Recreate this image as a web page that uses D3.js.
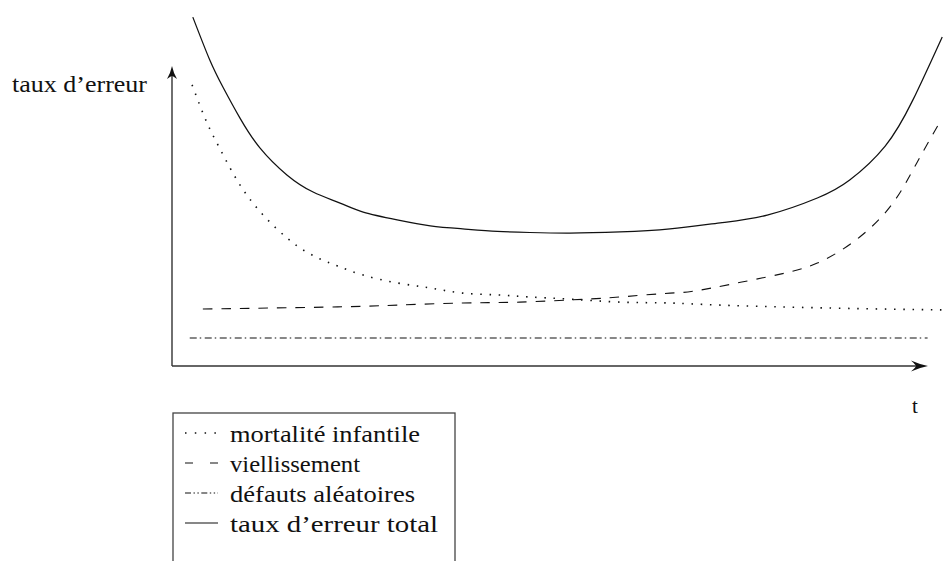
<!DOCTYPE html>
<html>
<head>
<meta charset="utf-8">
<script src="https://cdn.jsdelivr.net/npm/d3@7/dist/d3.min.js"></script>
<style>
html,body{margin:0;padding:0;background:#fff;}
svg{display:block;}
</style>
</head>
<body>
<svg id="chart" width="943" height="561"></svg>
<script>
// ---- data (time t in arbitrary units 0..100, failure rate in arbitrary units 0..100) ----
const totalT = [2.7, 4.9, 6.6, 8.8, 11.4, 14.9, 18.3, 21.8, 24.8, 29.2, 33.5, 37.7, 42.2, 46.4, 51.6, 58.1, 64.6, 71.1, 77.2, 83.7, 87.9, 92.5, 96.1, 99.9];
const totalV = [116.3, 102.0, 93.0, 82.7, 72.7, 63.7, 58.0, 54.3, 51.3, 48.7, 46.7, 45.7, 44.9, 44.5, 44.3, 44.7, 45.7, 47.7, 50.3, 56.0, 62.0, 73.3, 88.7, 109.7];

const infantT = [2.6, 4.5, 6.1, 7.9, 9.9, 12.3, 14.9, 17.0, 19.2, 21.5, 24.8, 29.2, 33.5, 37.7, 42.2, 46.4, 51.6, 58.1, 64.6, 71.1, 85.7, 100];
const infantV = [93.7, 81.3, 73.0, 64.3, 56.3, 49.0, 42.7, 38.7, 35.7, 33.3, 30.3, 27.7, 26.0, 24.3, 23.7, 23.0, 22.3, 21.3, 21.0, 20.3, 19.3, 18.7];

const agingT = [4.0, 21.5, 29.2, 37.7, 45.1, 53.8, 58.1, 64.6, 68.5, 77.2, 83.7, 89.2, 93.5, 96.6, 99.9];
const agingV = [19.0, 19.7, 20.3, 21.0, 21.3, 22.3, 23.0, 24.3, 25.3, 29.7, 34.3, 43.0, 54.3, 67.7, 82.7];

const randomT = [2.3, 98.0];
const randomV = [9.33, 9.33];

const legendLabels = ["mortalité infantile", "viellissement", "défauts aléatoires", "taux d’erreur total"];
const yLabel = "taux d’erreur";
const xLabel = "t";

// ---- drawing ----
const svg = d3.select("#chart");
const x = d3.scaleLinear().domain([0, 100]).range([172, 943]);
const y = d3.scaleLinear().domain([0, 100]).range([366, 66]);
const xAxisEnd = 98.05;

const line = d3.line().x(d => x(d[0])).y(d => y(d[1])).curve(d3.curveNatural);
const zip = (a, b) => a.map((v, i) => [v, b[i]]);

const styles = {
  infant: {dash: "1.5,7.7", cap: "butt", w: 1.6},
  aging: {dash: "9.5,9", cap: "butt", w: 1.1},
  random: {dash: "7,3,1.5,3.5", cap: "butt", w: 1.1},
  total: {dash: null, cap: "butt", w: 1.25}
};

function drawSeries(data, st) {
  const p = svg.append("path").datum(data).attr("d", line)
    .attr("fill", "none").attr("stroke", "#111").attr("stroke-width", st.w)
    .attr("stroke-linecap", st.cap);
  if (st.dash) p.attr("stroke-dasharray", st.dash);
}

// axes
const axisColor = "#333";
svg.append("line").attr("x1", x(0)).attr("y1", y(0)).attr("x2", x(0)).attr("y2", y(100) + 4)
  .attr("stroke", axisColor).attr("stroke-width", 1.4);
svg.append("line").attr("x1", x(0)).attr("y1", y(0)).attr("x2", x(xAxisEnd) - 4).attr("y2", y(0))
  .attr("stroke", axisColor).attr("stroke-width", 1.4);
// arrowheads
{
  const tx = x(0), ty = y(100);
  svg.append("path")
    .attr("d", `M${tx},${ty} Q${tx+1.5},${ty+7} ${tx+5},${ty+13} Q${tx+1},${ty+10} ${tx},${ty+10} Q${tx-1},${ty+10} ${tx-5},${ty+13} Q${tx-1.5},${ty+7} ${tx},${ty} Z`)
    .attr("fill", "#111");
  const ax = x(xAxisEnd), ay = y(0);
  svg.append("path")
    .attr("d", `M${ax},${ay} Q${ax-8},${ay-1.5} ${ax-17},${ay-5.5} Q${ax-12},${ay-1} ${ax-12},${ay} Q${ax-12},${ay+1} ${ax-17},${ay+5.5} Q${ax-8},${ay+1.5} ${ax},${ay} Z`)
    .attr("fill", "#111");
}

drawSeries(zip(randomT, randomV), styles.random);
drawSeries(zip(agingT, agingV), styles.aging);
drawSeries(zip(infantT, infantV), styles.infant);
drawSeries(zip(totalT, totalV), styles.total);

// axis labels
svg.append("text").attr("x", 12).attr("y", 92).text(yLabel)
  .attr("font-family", "Liberation Serif, Times New Roman, serif").attr("font-size", 23)
  .attr("textLength", 135).attr("lengthAdjust", "spacingAndGlyphs").attr("fill", "#111");
svg.append("text").attr("x", 912).attr("y", 413).text(xLabel)
  .attr("font-family", "Liberation Serif, Times New Roman, serif").attr("font-size", 21).attr("fill", "#111");

// legend
const lg = svg.append("g");
lg.append("rect").attr("x", 173).attr("y", 413).attr("width", 282).attr("height", 170)
  .attr("fill", "none").attr("stroke", "#444").attr("stroke-width", 1.3);
const legendWidths = [190, 130, 185, 208];
const legendSampleDash = ["1.5,8.3", "8,17", "6,2.5,1.4,2.5,1.4,2.5", null];
legendLabels.forEach((lab, i) => {
  const by = 442 + i * 30;
  const sy = by - 9;
  const p = lg.append("line").attr("x1", 185).attr("x2", 218).attr("y1", sy).attr("y2", sy)
    .attr("stroke", "#111").attr("stroke-width", i === 0 ? 1.5 : 1.1);
  if (legendSampleDash[i]) p.attr("stroke-dasharray", legendSampleDash[i]);
  lg.append("text").attr("x", 230).attr("y", by).text(lab)
    .attr("font-family", "Liberation Serif, Times New Roman, serif").attr("font-size", 23)
    .attr("textLength", legendWidths[i]).attr("lengthAdjust", "spacingAndGlyphs").attr("fill", "#111");
});
</script>
</body>
</html>
